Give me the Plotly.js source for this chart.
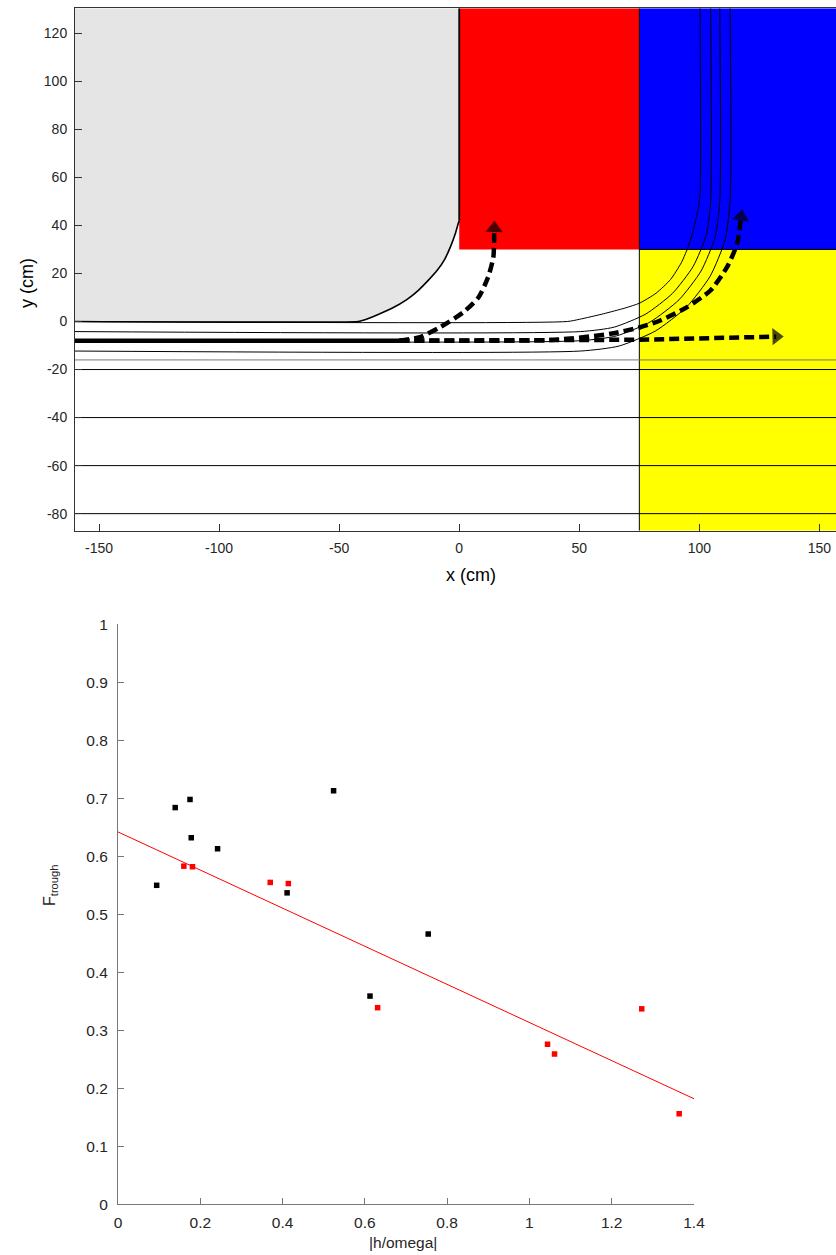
<!DOCTYPE html>
<html>
<head>
<meta charset="utf-8">
<script src="https://cdn.plot.ly/plotly-3.0.1.min.js"></script>
<style>html,body{margin:0;padding:0;background:#fff;}#chart{width:836px;height:1255px;}</style>
</head>
<body>
<div id="chart"></div>
<script>
// ---------- Top panel data (cm) ----------
const regionX0 = [0, 75, 75];
const regionX1 = [75, 157, 157];
const regionY0 = [30, 30, -87.1];
const regionY1 = [130.4, 130.4, 30];
const regionColors = ['#ff0000', '#0000ff', '#ffff00'];

// grey block outline (rounded lower-right corner)
const greyCurveX = [-160, -42, -40, -34, -28, -22, -17, -13, -9, -6, -3.5, -1.5, -0.5, 0];
const greyCurveY = [0, 0, 0.5, 2.8, 5.5, 9, 13, 17, 21.5, 26, 31.5, 37, 40.5, 42];
const greyEdgeX = [0, 0, -160];
const greyEdgeY = [42, 130.4, 130.4];

const stream1X = [-160, 45, 50, 60, 69, 75, 82, 88, 92.5, 95.7, 98, 99.5, 100.3, 100.3];
const stream1Y = [0, 0, 0.9, 3.2, 5.6, 7.6, 11.8, 17.5, 24.5, 32, 40, 47, 53, 130.4];
const stream2X = [-160, 50.5, 64.5, 77.6, 88.8, 97.4, 102.9, 104.7, 104.7];
const stream2Y = [-4.2, -4.2, -2.35, 3.06, 11.7, 22.9, 36.0, 50, 130.4];
const stream3X = [-160, 50.5, 65.5, 79.5, 91.5, 100.7, 106.5, 108.5, 108.5];
const stream3Y = [-8, -8, -6.0, -0.2, 9.0, 21.0, 35.0, 50, 130.4];
const stream4X = [-160, 50.5, 66.6, 81.7, 94.6, 104.5, 110.7, 112.8, 112.8];
const stream4Y = [-12.3, -12.3, -10.2, -3.95, 5.95, 18.85, 33.9, 50, 130.4];

const levelY = [-16, -20, -40, -60, -80];
const levelColors = ['#777777', '#000000', '#000000', '#000000', '#000000'];

const solidX = [-160, -25];
const solidY = [-8, -8];
const arrow1X = [-25, 75, 132];
const arrow1Y = [-8, -7.6, -6.3];
const arrow2X = [-25, -16.3, -8, 1.8, 8, 12, 14.2, 14.6];
const arrow2Y = [-8, -6.5, -2.4, 3.9, 10, 18.4, 26.7, 38.8];
const arrow3X = [-25, 40, 63, 75.4, 83.75, 94.9, 104.6, 111.5, 115.7, 117.4];
const arrow3Y = [-8, -7.6, -5.1, -2.4, 0.4, 6, 12.9, 22.6, 32.3, 43.6];

const topXTicks = [-150, -100, -50, 0, 50, 100, 150];
const topXLabels = ['-150', '-100', '-50', '0', '50', '100', '150'];
const topYTicks = [-80, -60, -40, -20, 0, 20, 40, 60, 80, 100, 120];
const topYLabels = ['-80', '-60', '-40', '-20', '0', '20', '40', '60', '80', '100', '120'];

// ---------- Bottom panel data ----------
const blackX = [0.094, 0.139, 0.175, 0.178, 0.242, 0.411, 0.524, 0.6125, 0.754];
const blackY = [0.550, 0.684, 0.698, 0.632, 0.613, 0.537, 0.713, 0.359, 0.466];
const redX = [0.160, 0.181, 0.370, 0.414, 0.631, 1.044, 1.061, 1.273, 1.364];
const redY = [0.583, 0.582, 0.555, 0.553, 0.339, 0.276, 0.259, 0.337, 0.156];
const fitX = [0, 1.4];
const fitY = [0.642, 0.182];

const botXTicks = [0, 0.2, 0.4, 0.6, 0.8, 1, 1.2, 1.4];
const botXLabels = ['0', '0.2', '0.4', '0.6', '0.8', '1', '1.2', '1.4'];
const botYTicks = [0, 0.1, 0.2, 0.3, 0.4, 0.5, 0.6, 0.7, 0.8, 0.9, 1];
const botYLabels = ['0', '0.1', '0.2', '0.3', '0.4', '0.5', '0.6', '0.7', '0.8', '0.9', '1'];

// ---------- Build ----------
const XR = [-160, 156.9];
const traces = [];

// grey fill (polygon) + outline
traces.push({x: greyCurveX.concat(greyEdgeX), y: greyCurveY.concat(greyEdgeY), xaxis: 'x', yaxis: 'y',
  mode: 'lines', fill: 'toself', fillcolor: '#e5e5e5', line: {width: 0},
  hoverinfo: 'skip', showlegend: false});
traces.push({x: greyCurveX, y: greyCurveY, xaxis: 'x', yaxis: 'y',
  mode: 'lines', line: {color: '#000', width: 1.6, shape: 'spline', smoothing: 0.5},
  hoverinfo: 'skip', showlegend: false});
traces.push({x: greyEdgeX.slice(0, 2), y: greyEdgeY.slice(0, 2), xaxis: 'x', yaxis: 'y',
  mode: 'lines', line: {color: '#000', width: 1.8}, hoverinfo: 'skip', showlegend: false});

// region borders
traces.push({x: [regionX0[1], regionX0[1]], y: [regionY0[2], regionY1[1]], xaxis: 'x', yaxis: 'y',
  mode: 'lines', line: {color: '#000', width: 1}, showlegend: false, hoverinfo: 'skip'});
traces.push({x: [regionX0[1], XR[1]], y: [regionY0[1], regionY0[1]], xaxis: 'x', yaxis: 'y',
  mode: 'lines', line: {color: '#000', width: 1}, showlegend: false, hoverinfo: 'skip'});

levelY.forEach((lv, i) => {
  traces.push({x: XR, y: [lv, lv], xaxis: 'x', yaxis: 'y', mode: 'lines',
    line: {color: levelColors[i], width: 1}, showlegend: false, hoverinfo: 'skip'});
});

[[stream1X, stream1Y], [stream2X, stream2Y], [stream3X, stream3Y], [stream4X, stream4Y]].forEach(s => {
  traces.push({x: s[0], y: s[1], xaxis: 'x', yaxis: 'y', mode: 'lines',
    line: {color: '#000', width: 1, shape: 'spline', smoothing: 0.6}, showlegend: false, hoverinfo: 'skip'});
});

traces.push({x: solidX, y: solidY, xaxis: 'x', yaxis: 'y', mode: 'lines',
  line: {color: '#000', width: 4.5}, showlegend: false, hoverinfo: 'skip'});

[[arrow1X, arrow1Y, 'linear'], [arrow2X, arrow2Y, 'spline'], [arrow3X, arrow3Y, 'spline']].forEach(a => {
  const sizes = a[0].map((v, i) => i === a[0].length - 1 ? 15 : 0);
  traces.push({x: a[0], y: a[1], xaxis: 'x', yaxis: 'y', mode: 'lines+markers',
    line: {color: '#000', width: 4.5, dash: '10px,5px', shape: a[2], smoothing: 0.6},
    marker: {size: sizes, color: '#000', symbol: 'triangle-up', angleref: 'previous', line: {width: 0}},
    showlegend: false, hoverinfo: 'skip'});
});

traces.push({x: fitX, y: fitY, xaxis: 'x2', yaxis: 'y2', mode: 'lines',
  line: {color: '#ff0000', width: 1}, showlegend: false});
traces.push({x: blackX, y: blackY, xaxis: 'x2', yaxis: 'y2', mode: 'markers',
  marker: {symbol: 'square', size: 5.5, color: '#000'}, showlegend: false});
traces.push({x: redX, y: redY, xaxis: 'x2', yaxis: 'y2', mode: 'markers',
  marker: {symbol: 'square', size: 5.5, color: '#ff0000'}, showlegend: false});

const shapes = regionColors.map((c, i) => ({type: 'rect', xref: 'x', yref: 'y', layer: 'below',
  x0: regionX0[i], x1: regionX1[i], y0: regionY0[i], y1: regionY1[i], fillcolor: c, line: {width: 0}}));

const W = 836, H = 1255;
const px = v => v / W, py = v => 1 - v / H;
const FONT = 'Liberation Sans, Arial, sans-serif';

const layout = {
  width: W, height: H, margin: {l: 0, r: 0, t: 0, b: 0}, paper_bgcolor: '#fff', plot_bgcolor: 'rgba(0,0,0,0)',
  showlegend: false, font: {family: FONT, color: '#262626'},
  xaxis: {domain: [px(75), 1], range: XR, anchor: 'y', showgrid: false, zeroline: false,
    showline: true, mirror: true, linecolor: '#333', linewidth: 1, ticks: 'inside', ticklen: 7,
    tickcolor: '#333', tickvals: topXTicks, ticktext: topXLabels, tickfont: {size: 14, family: FONT, color: '#262626'}, ticklabelstandoff: 4},
  yaxis: {domain: [py(530.7), py(8.3)], range: [-87.1, 130.4], anchor: 'x', showgrid: false, zeroline: false,
    showline: true, linecolor: '#333', linewidth: 1, ticks: 'inside', ticklen: 7,
    tickcolor: '#333', tickvals: topYTicks, ticktext: topYLabels, tickfont: {size: 14, family: FONT, color: '#262626'}, ticklabelstandoff: 4},
  xaxis2: {domain: [px(118), px(694)], range: [0, 1.4], anchor: 'y2', showgrid: false, zeroline: false,
    showline: true, linecolor: '#777', linewidth: 1, ticks: 'inside', ticklen: 6, tickcolor: '#777',
    tickvals: botXTicks, ticktext: botXLabels, tickfont: {size: 15.5, family: FONT, color: '#262626'}, ticklabelstandoff: 4},
  yaxis2: {domain: [py(1204.3), py(624.3)], range: [0, 1], anchor: 'x2', showgrid: false, zeroline: false,
    showline: true, linecolor: '#777', linewidth: 1, ticks: 'inside', ticklen: 6, tickcolor: '#777',
    tickvals: botYTicks, ticktext: botYLabels, tickfont: {size: 15.5, family: FONT, color: '#262626'}, ticklabelstandoff: 6},
  shapes: shapes,
  annotations: [
    {text: 'y (cm)', xref: 'paper', yref: 'paper', x: px(27), y: py(283), textangle: -90, showarrow: false,
      xanchor: 'center', yanchor: 'middle', font: {size: 18, family: FONT, color: '#000'}},
    {text: 'x (cm)', xref: 'paper', yref: 'paper', x: px(471), y: py(575), showarrow: false,
      xanchor: 'center', yanchor: 'middle', font: {size: 18, family: FONT, color: '#000'}},
    {text: 'F<sub>trough</sub>', xref: 'paper', yref: 'paper', x: px(50), y: py(885), textangle: -90, showarrow: false,
      xanchor: 'center', yanchor: 'middle', font: {size: 16, family: FONT, color: '#262626'}},
    {text: '|h/omega|', xref: 'paper', yref: 'paper', x: px(403), y: py(1242), showarrow: false,
      xanchor: 'center', yanchor: 'middle', font: {size: 15.5, family: FONT, color: '#262626'}}
  ]
};

Plotly.newPlot('chart', traces, layout, {staticPlot: true, displayModeBar: false});
</script>
</body>
</html>
